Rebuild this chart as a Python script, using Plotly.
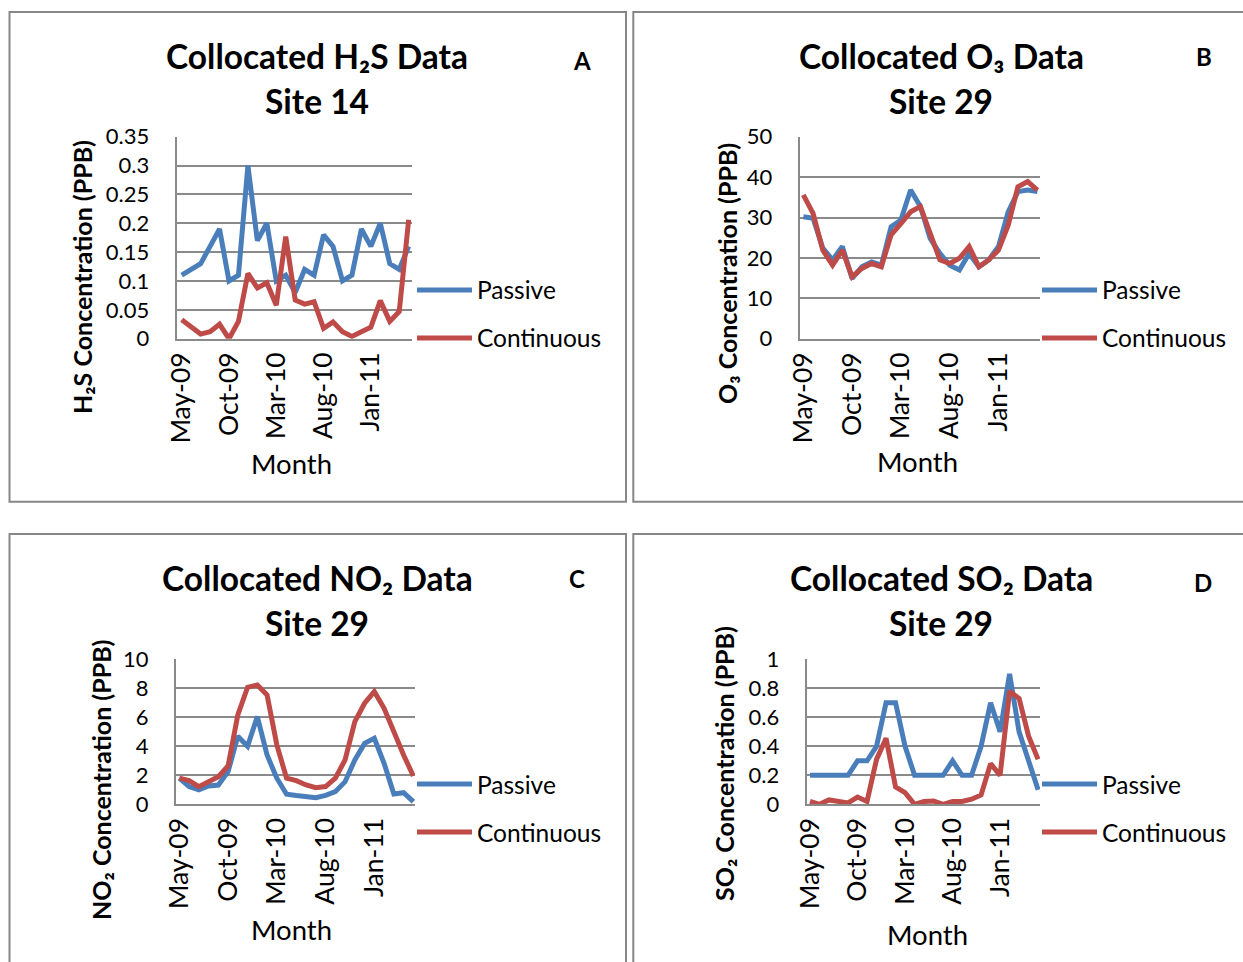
import plotly.graph_objects as go

# ---------------- data ----------------
months = ["May-09", "Jun-09", "Jul-09", "Aug-09", "Sep-09", "Oct-09", "Nov-09", "Dec-09",
          "Jan-10", "Feb-10", "Mar-10", "Apr-10", "May-10", "Jun-10", "Jul-10", "Aug-10",
          "Sep-10", "Oct-10", "Nov-10", "Dec-10", "Jan-11", "Feb-11", "Mar-11", "Apr-11", "May-11"]
tick_months = ["May-09", "Oct-09", "Mar-10", "Aug-10", "Jan-11"]

h2s_passive = [0.11, 0.12, 0.13, 0.16, 0.19, 0.10, 0.11, 0.30, 0.17, 0.20, 0.10, 0.11, 0.08,
               0.12, 0.11, 0.18, 0.16, 0.10, 0.11, 0.19, 0.16, 0.20, 0.13, 0.12, 0.16]
h2s_continuous = [0.033, 0.02, 0.008, 0.012, 0.025, 0.0, 0.03, 0.113, 0.088, 0.097, 0.058, 0.177,
                  0.067, 0.06, 0.064, 0.018, 0.029, 0.012, 0.004, 0.012, 0.02, 0.066, 0.03, 0.047, 0.206]

o3_passive = [30.2, 29.8, 22.4, 19.5, 22.8, 14.9, 17.8, 19.0, 18.2, 27.7, 29.4, 36.8, 32.7,
              24.8, 21.1, 18.2, 17.0, 21.1, 17.8, 19.5, 22.8, 31.4, 36.4, 36.8, 36.4]
o3_continuous = [35.6, 31.0, 21.9, 18.2, 21.9, 15.3, 17.4, 18.6, 17.8, 25.7, 28.5, 31.4, 32.7,
                 26.5, 19.5, 18.6, 19.9, 22.8, 17.8, 19.5, 21.9, 28.1, 37.6, 38.9, 36.8]

no2_passive = [1.8, 1.22, 1.0, 1.26, 1.33, 2.25, 4.7, 4.0, 6.05, 3.4, 1.8, 0.69, 0.6,
               0.57, 0.46, 0.62, 0.87, 1.56, 3.06, 4.2, 4.55, 2.83, 0.71, 0.8, 0.18]
no2_continuous = [1.8, 1.63, 1.22, 1.56, 1.9, 2.64, 6.16, 8.07, 8.23, 7.54, 4.1, 1.8, 1.63,
                  1.33, 1.15, 1.22, 1.8, 3.06, 5.7, 6.97, 7.77, 6.62, 4.9, 3.4, 1.95]

so2_passive = [0.2, 0.2, 0.2, 0.2, 0.2, 0.3, 0.3, 0.4, 0.7, 0.7, 0.4, 0.2, 0.2,
               0.2, 0.2, 0.3, 0.2, 0.2, 0.4, 0.7, 0.5, 0.9, 0.5, 0.3, 0.1]
so2_continuous = [0.02, 0.0, 0.03, 0.02, 0.01, 0.05, 0.02, 0.31, 0.455, 0.12, 0.08, 0.0, 0.02,
                  0.023, 0.0, 0.02, 0.02, 0.035, 0.064, 0.28, 0.2, 0.78, 0.73, 0.47, 0.31]

series_names = ["Passive", "Continuous"]

# ---------------- style ----------------
W, H = 1243, 962
FONT = "Lato"
BLUE = "#4A7EBB"
RED = "#BE4B48"
GRID = "#8a8a8a"
BORDER = "#878787"
LW = 5


def px(x):
    return x / W


def py(y):
    return 1 - y / H


panels = [
    dict(key="", data=(h2s_passive, h2s_continuous), ymax=0.35, dtick=0.05,
         ticktext=["0", "0.05", "0.1", "0.15", "0.2", "0.25", "0.3", "0.35"],
         plot=(176.7, 411.7, 136.7, 338.7), xr=(-0.53, 24.32),
         title1="Collocated H₂S Data", title2="Site 14", tx=317,
         t1y=56, t2y=101, letter="A", lpos=(582, 61),
         ytitle="H₂S Concentration (PPB)", ytpos=(82, 277),
         month=(291, 463), leg=(417, 290, 338),
         box=(9.5, 12, 626, 501.7)),
    dict(key="2", data=(o3_passive, o3_continuous), ymax=50, dtick=10,
         ticktext=["0", "10", "20", "30", "40", "50"],
         plot=(799.7, 1040, 136.7, 338.7), xr=(-0.37, 24.26),
         title1="Collocated O₃ Data", title2="Site 29", tx=941,
         t1y=56, t2y=101, letter="B", lpos=(1204, 56),
         ytitle="O₃ Concentration (PPB)", ytpos=(727, 274),
         month=(917, 461), leg=(1042, 290, 338),
         box=(633.3, 12, 1250, 501.7)),
    dict(key="3", data=(no2_passive, no2_continuous), ymax=10, dtick=2,
         ticktext=["0", "2", "4", "6", "8", "10"],
         plot=(176, 415, 659.3, 804.3), xr=(-0.34, 24.17),
         title1="Collocated NO₂ Data", title2="Site 29", tx=317,
         t1y=578, t2y=623, letter="C", lpos=(577, 578),
         ytitle="NO₂ Concentration (PPB)", ytpos=(101, 780),
         month=(291, 929), leg=(417, 784, 832),
         box=(9.5, 534, 626, 975)),
    dict(key="4", data=(so2_passive, so2_continuous), ymax=1, dtick=0.2,
         ticktext=["0", "0.2", "0.4", "0.6", "0.8", "1"],
         plot=(806.7, 1040, 659.3, 804.3), xr=(-0.35, 24.2),
         title1="Collocated SO₂ Data", title2="Site 29", tx=941,
         t1y=578, t2y=623, letter="D", lpos=(1203, 582),
         ytitle="SO₂ Concentration (PPB)", ytpos=(724, 764),
         month=(927, 934), leg=(1042, 784, 832),
         box=(633.3, 534, 1250, 975)),
]

fig = go.Figure()
annotations = []
shapes = []
layout_axes = {}

for p in panels:
    k = p["key"]
    xa, ya = "x" + k, "y" + k
    for vals, name, col in zip(p["data"], series_names, [BLUE, RED]):
        fig.add_trace(go.Scatter(x=months, y=vals, name=name, mode="lines",
                                 line=dict(color=col, width=LW),
                                 xaxis=xa, yaxis=ya, showlegend=False))
    x0, x1, y0, y1 = p["plot"]
    nticks = len(p["ticktext"])
    tickvals = [i * p["dtick"] for i in range(nticks)]
    layout_axes["xaxis" + k] = dict(
        domain=[px(x0), px(x1)], type="category", range=list(p["xr"]),
        tickmode="array", tickvals=tick_months, ticktext=tick_months,
        tickangle=-90, showgrid=False, zeroline=False, showline=True,
        linecolor=GRID, linewidth=2, ticks="", ticklabelstandoff=1,
        tickfont=dict(family=FONT, size=26.5, color="black"),
        anchor=ya, fixedrange=True, automargin=False)
    layout_axes["yaxis" + k] = dict(
        domain=[py(y1), py(y0)], range=[0, p["ymax"]],
        tickmode="array", tickvals=tickvals, ticktext=p["ticktext"],
        showgrid=True, gridcolor=GRID, gridwidth=2, zeroline=False,
        showline=True, linecolor=GRID, linewidth=2, ticks="", ticklabelstandoff=21,
        tickfont=dict(family=FONT, size=22, color="black"),
        anchor=xa, fixedrange=True, automargin=False)

    # chart titles
    for key_t, key_y in (("title1", "t1y"), ("title2", "t2y")):
        annotations.append(dict(text=p[key_t], x=px(p["tx"]), y=py(p[key_y]), xref="paper", yref="paper",
                                xanchor="center", yanchor="middle", showarrow=False,
                                font=dict(family=FONT, size=33.5, color="black", weight="bold")))
    annotations.append(dict(text=p["letter"], x=px(p["lpos"][0]), y=py(p["lpos"][1]),
                            xref="paper", yref="paper", xanchor="center", yanchor="middle",
                            showarrow=False, font=dict(family=FONT, size=24, color="black", weight="bold")))
    # axis titles
    annotations.append(dict(text=p["ytitle"], x=px(p["ytpos"][0]), y=py(p["ytpos"][1]),
                            xref="paper", yref="paper", xanchor="center", yanchor="middle",
                            textangle=-90, showarrow=False,
                            font=dict(family=FONT, size=25, color="black", weight="bold")))
    annotations.append(dict(text="Month", x=px(p["month"][0]), y=py(p["month"][1]),
                            xref="paper", yref="paper", xanchor="center", yanchor="middle",
                            showarrow=False, font=dict(family=FONT, size=27.5, color="black")))
    # legend
    lx, ly1, ly2 = p["leg"]
    for name, col, ly in zip(series_names, [BLUE, RED], [ly1, ly2]):
        shapes.append(dict(type="line", xref="paper", yref="paper",
                           x0=px(lx), x1=px(lx + 55), y0=py(ly), y1=py(ly),
                           line=dict(color=col, width=LW)))
        annotations.append(dict(text=name, x=px(lx + 58), y=py(ly), xref="paper", yref="paper",
                                xanchor="left", yanchor="middle", showarrow=False,
                                font=dict(family=FONT, size=24.5, color="black")))
    # panel frame
    bx0, by0, bx1, by1 = p["box"]
    shapes.append(dict(type="rect", xref="paper", yref="paper",
                       x0=px(bx0), x1=px(bx1), y0=py(by1), y1=py(by0),
                       line=dict(color=BORDER, width=2), layer="below"))

fig.update_layout(
    width=W, height=H, margin=dict(l=0, r=0, t=0, b=0, pad=0, autoexpand=False),
    paper_bgcolor="white", plot_bgcolor="white",
    showlegend=False, annotations=annotations, shapes=shapes,
    font=dict(family=FONT, color="black"),
    **layout_axes)

fig.write_html("out.html", config={"displayModeBar": False},
               post_script="document.body.style.margin='0';document.body.style.overflow='hidden';")
